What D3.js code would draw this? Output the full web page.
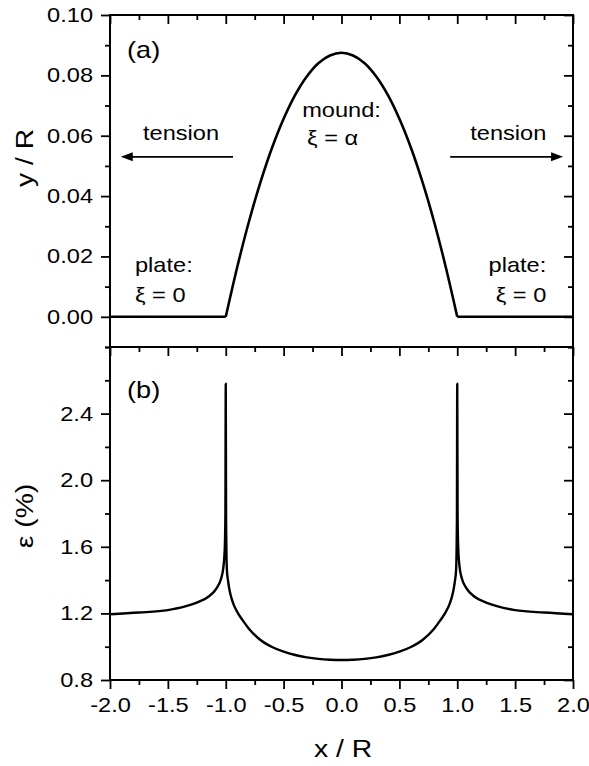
<!DOCTYPE html>
<html>
<head>
<meta charset="utf-8">
<script src="https://cdn.jsdelivr.net/npm/d3@7"></script>
<style>
  body { margin: 0; background: #fff; }
  text { font-family: "Liberation Sans", Arial, Helvetica, sans-serif; fill: #000; }
</style>
</head>
<body>
<svg id="chart"></svg>
<script>
const width = 589;
const height = 766;
const plotLeft = 110;
const plotRight = 573;
const sx = 1.18; // the original lettering is a bit wider than Liberation Sans

// panel (a): height profile
const plateLeftX = [-2.0, -1.0];
const plateLeftY = [0.0, 0.0];
const plateRightX = [1.0, 2.0];
const plateRightY = [0.0, 0.0];
const moundX = [-1.0, -0.9, -0.8, -0.7, -0.6, -0.5, -0.4, -0.3, -0.2, -0.1, 0.0,
                0.1, 0.2, 0.3, 0.4, 0.5, 0.6, 0.7, 0.8, 0.9, 1.0];
const moundY = [0.0, 0.0166, 0.0315, 0.0446, 0.056, 0.0656, 0.0735, 0.0796, 0.084, 0.0866, 0.0875,
                0.0866, 0.084, 0.0796, 0.0735, 0.0656, 0.056, 0.0446, 0.0315, 0.0166, 0.0];

// panel (b): strain
const strainX = [-2.0, -1.75, -1.5, -1.35, -1.25, -1.15, -1.08, -1.04, -1.02, -1.008, -1.003, -1.0,
                 -0.997, -0.99, -0.98, -0.97, -0.96, -0.95, -0.93, -0.9, -0.85, -0.8, -0.7, -0.6, -0.5,
                 -0.4, -0.3, -0.2, -0.1, 0.0, 0.1, 0.2, 0.3, 0.4,
                 0.5, 0.6, 0.7, 0.8, 0.85, 0.9, 0.93, 0.95, 0.96, 0.97, 0.98, 0.99, 0.997,
                 1.0, 1.003, 1.008, 1.02, 1.04, 1.08, 1.15, 1.25, 1.35, 1.5, 1.75, 2.0];
const strainY = [1.195, 1.205, 1.22, 1.242, 1.265, 1.30, 1.35, 1.41, 1.48, 1.60, 1.80, 2.58,
                 1.75, 1.46, 1.395, 1.35, 1.317, 1.29, 1.25, 1.208, 1.155, 1.108, 1.04, 0.998, 0.97,
                 0.95, 0.936, 0.927, 0.922, 0.92, 0.922, 0.927, 0.936, 0.95,
                 0.97, 0.998, 1.04, 1.108, 1.155, 1.208, 1.25, 1.29, 1.317, 1.35, 1.395, 1.46, 1.75,
                 2.58, 1.80, 1.60, 1.48, 1.41, 1.35, 1.30, 1.265, 1.242, 1.22, 1.205, 1.195];

// ticks
const xMajor = [-2.0, -1.5, -1.0, -0.5, 0.0, 0.5, 1.0, 1.5, 2.0];
const xMinor = [-1.75, -1.25, -0.75, -0.25, 0.25, 0.75, 1.25, 1.75];
const yMajorA = [0.00, 0.02, 0.04, 0.06, 0.08, 0.10];
const yMinorA = [-0.01, 0.01, 0.03, 0.05, 0.07, 0.09];
const yMajorB = [0.8, 1.2, 1.6, 2.0, 2.4];
const yMinorB = [1.0, 1.4, 1.8, 2.2, 2.6, 2.8];

const svg = d3.select("#chart")
  .attr("width", width)
  .attr("height", height);

const x = d3.scaleLinear().domain([-2, 2]).range([plotLeft, plotRight]);
const yA = d3.scaleLinear().domain([-0.01, 0.10]).range([347, 15]);
const yB = d3.scaleLinear().domain([0.8, 2.8]).range([680, 347]);

function addAxis(axis, tx, ty) {
  const g = svg.append("g")
    .attr("transform", `translate(${tx},${ty})`)
    .call(axis);
  g.select(".domain").remove();
  g.selectAll(".tick line").attr("stroke", "#000").attr("stroke-width", 1.8);
  g.selectAll("text")
    .attr("font-size", 20)
    .attr("font-family", "Liberation Sans, Arial, sans-serif")
    .attr("fill", "#000")
    .each(function () {
      const t = d3.select(this);
      const tx0 = +t.attr("x") || 0;
      t.attr("x", tx0 / sx).attr("transform", `scale(${sx},1)`);
    });
  return g;
}

const fmt2 = d => d.toFixed(2);
const fmt1 = d => d.toFixed(1);

// panel (a) axes
addAxis(d3.axisLeft(yA).tickValues(yMajorA).tickSize(9).tickPadding(8).tickFormat(fmt2), plotLeft, 0);
addAxis(d3.axisLeft(yA).tickValues(yMinorA).tickSize(5).tickFormat(""), plotLeft, 0);
addAxis(d3.axisRight(yA).tickValues(yMajorA).tickSize(-9).tickFormat(""), plotRight, 0);
addAxis(d3.axisRight(yA).tickValues(yMinorA).tickSize(-5).tickFormat(""), plotRight, 0);
addAxis(d3.axisTop(x).tickValues(xMajor).tickSize(-9).tickFormat(""), 0, 15);
addAxis(d3.axisTop(x).tickValues(xMinor).tickSize(-5).tickFormat(""), 0, 15);

// panel (b) axes
addAxis(d3.axisLeft(yB).tickValues(yMajorB).tickSize(9).tickPadding(8).tickFormat(fmt1), plotLeft, 0);
addAxis(d3.axisLeft(yB).tickValues(yMinorB).tickSize(5).tickFormat(""), plotLeft, 0);
addAxis(d3.axisRight(yB).tickValues(yMajorB).tickSize(-9).tickFormat(""), plotRight, 0);
addAxis(d3.axisRight(yB).tickValues(yMinorB).tickSize(-5).tickFormat(""), plotRight, 0);
addAxis(d3.axisTop(x).tickValues(xMajor).tickSize(-9).tickFormat(""), 0, 347);
addAxis(d3.axisTop(x).tickValues(xMinor).tickSize(-5).tickFormat(""), 0, 347);
addAxis(d3.axisBottom(x).tickValues(xMajor).tickSize(9).tickPadding(9).tickFormat(fmt1), 0, 680);
addAxis(d3.axisBottom(x).tickValues(xMinor).tickSize(5).tickFormat(""), 0, 680);

// frames
[[15, 347], [347, 680]].forEach(([t, b]) => {
  svg.append("rect")
    .attr("x", plotLeft).attr("y", t)
    .attr("width", plotRight - plotLeft).attr("height", b - t)
    .attr("fill", "none").attr("stroke", "#000").attr("stroke-width", 2);
});

// curves
const lineA = d3.line().x(d => x(d[0])).y(d => yA(d[1]));
const lineMound = d3.line().x(d => x(d[0])).y(d => yA(d[1])).curve(d3.curveCatmullRom);
const lineB = d3.line().x(d => x(d[0])).y(d => yB(d[1])).curve(d3.curveMonotoneX);

const curveStyle = p => p.attr("fill", "none").attr("stroke", "#000")
  .attr("stroke-width", 2.6).attr("stroke-linejoin", "round");

svg.append("path").datum(d3.zip(plateLeftX, plateLeftY)).attr("d", lineA).call(curveStyle);
svg.append("path").datum(d3.zip(moundX, moundY)).attr("d", lineMound).call(curveStyle);
svg.append("path").datum(d3.zip(plateRightX, plateRightY)).attr("d", lineA).call(curveStyle);
svg.append("path").datum(d3.zip(strainX, strainY)).attr("d", lineB).call(curveStyle)
  .attr("stroke-width", 2.4);

// annotations
function label(txt, px, py, anchor, size, rot) {
  return svg.append("text")
    .attr("transform", `translate(${px},${py})${rot ? " rotate(" + rot + ")" : ""} scale(${sx},1)`)
    .attr("text-anchor", anchor || "start")
    .attr("font-size", size || 20)
    .text(txt);
}

label("(a)", x(-1.853), yA(0.0858), "start", 23);
label("(b)", x(-1.853), yB(2.494), "start", 23);
label("tension", x(-1.386), yA(0.0586), "middle");
label("tension", x(1.441), yA(0.0586), "middle");
label("mound:", x(-0.34), yA(0.0662));
label("ξ = α", x(-0.297), yA(0.057));
label("plate:", x(-1.784), yA(0.0148));
label("ξ = 0", x(-1.784), yA(0.0049));
label("plate:", x(1.769), yA(0.0148), "end");
label("ξ = 0", x(1.769), yA(0.0049), "end");

// tension arrows
function arrow(x0, x1, yv) {
  const px0 = x(x0), px1 = x(x1), py = yA(yv);
  const dir = Math.sign(px1 - px0);
  svg.append("line")
    .attr("x1", px0).attr("y1", py)
    .attr("x2", px1 - dir * 8).attr("y2", py)
    .attr("stroke", "#000").attr("stroke-width", 1.8);
  svg.append("path")
    .attr("d", `M${px1},${py} L${px1 - dir * 12},${py - 4.5} L${px1 - dir * 12},${py + 4.5} Z`)
    .attr("fill", "#000");
}
arrow(-0.937, -1.907, 0.053);
arrow(0.939, 1.914, 0.053);

// axis titles
label("y / R", 33, 158, "middle", 24, -90);
label("ε (%)", 33, 516, "middle", 24, -90);
label("x / R", 343, 757, "middle", 24);
</script>
</body>
</html>
